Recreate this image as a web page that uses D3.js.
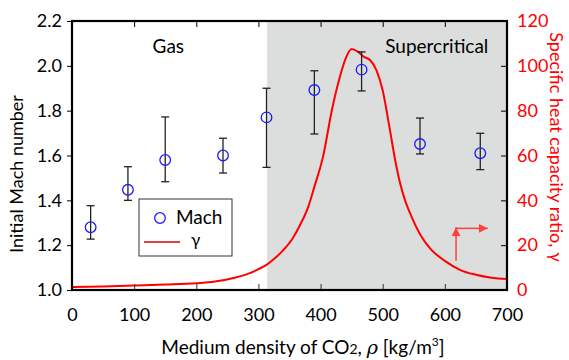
<!DOCTYPE html>
<html>
<head>
<meta charset="utf-8">
<script src="https://cdn.jsdelivr.net/npm/d3@7"></script>
<style>
  body { margin: 0; background: #fff; }
  text { font-family: Lato, "Open Sans", sans-serif; }
</style>
</head>
<body>
<script>
// Mach data (density, value, error top, error bottom)
const machRho = [30, 90, 150, 243, 313, 390, 466, 560, 657];
const machVal = [1.28, 1.447, 1.58, 1.60, 1.77, 1.892, 1.983, 1.651, 1.61];
const machHi  = [1.376, 1.55, 1.772, 1.677, 1.90, 1.978, 2.062, 1.767, 1.699];
const machLo  = [1.227, 1.40, 1.483, 1.522, 1.547, 1.696, 1.888, 1.607, 1.537];

// specific heat ratio curve
const gammaRho = [0, 50, 100, 150, 200, 230, 262, 285, 300, 313, 325, 340, 355, 367, 380, 390, 404, 418, 431, 440, 450,
                  460, 470, 480, 490, 500, 510, 520, 528, 536, 546, 562, 578, 600, 625, 650, 675, 700];
const gammaVal = [1.3, 1.6, 2.0, 2.4, 3.0, 3.8, 5.5, 7.4, 9.3, 11.2, 13.8, 17.8, 23, 29, 37, 46, 59.5, 80, 95, 103, 107.5,
                  106.3, 104, 102.5, 98, 89, 74, 58, 47.6, 40, 33, 24, 18, 13, 8.9, 6.8, 5.5, 4.9];

const xTicks = [0, 100, 200, 300, 400, 500, 600, 700];
const yTicks = [1.0, 1.2, 1.4, 1.6, 1.8, 2.0, 2.2];
const y2Ticks = [0, 20, 40, 60, 80, 100, 120];
const superStart = 314;

const W = 569, H = 360;
const mL = 72, mR = 507, mT = 21, mB = 290;

const svg = d3.select("body").append("svg")
  .attr("width", W)
  .attr("height", H);

const x = d3.scaleLinear().domain([0, 700]).range([mL, mR]);
const y = d3.scaleLinear().domain([1.0, 2.2]).range([mB, mT]);
const y2 = d3.scaleLinear().domain([0, 120]).range([mB, mT]);

// supercritical shading
svg.append("rect")
  .attr("x", x(superStart))
  .attr("y", mT)
  .attr("width", x(700) - x(superStart))
  .attr("height", mB - mT)
  .attr("fill", "#dcdddd");

// region labels
svg.append("text").attr("x", x(155)).attr("y", 53)
  .attr("text-anchor", "middle").attr("font-size", 19).text("Gas");
svg.append("text").attr("x", x(587)).attr("y", 53)
  .attr("text-anchor", "middle").attr("font-size", 19).text("Supercritical");

// gamma curve
const line = d3.line()
  .x((d, i) => x(gammaRho[i]))
  .y(d => y2(d))
  .curve(d3.curveMonotoneX);
svg.append("path")
  .datum(gammaVal)
  .attr("d", line)
  .attr("fill", "none")
  .attr("stroke", "#ff0000")
  .attr("stroke-width", 2);

// error bars
const eb = svg.append("g").attr("stroke", "#222").attr("stroke-width", 1.3);
machRho.forEach((r, i) => {
  const cx = x(r);
  eb.append("line").attr("x1", cx).attr("x2", cx).attr("y1", y(machHi[i])).attr("y2", y(machLo[i]));
  eb.append("line").attr("x1", cx - 4).attr("x2", cx + 4).attr("y1", y(machHi[i])).attr("y2", y(machHi[i]));
  eb.append("line").attr("x1", cx - 4).attr("x2", cx + 4).attr("y1", y(machLo[i])).attr("y2", y(machLo[i]));
});

// mach points
svg.append("g").selectAll("circle")
  .data(machVal)
  .join("circle")
  .attr("cx", (d, i) => x(machRho[i]))
  .attr("cy", d => y(d))
  .attr("r", 5.3)
  .attr("fill", "none")
  .attr("stroke", "#1a1aff")
  .attr("stroke-width", 1.3);

// arrow pointing to right axis
const defs = svg.append("defs");
defs.append("marker")
  .attr("id", "head")
  .attr("viewBox", "0 0 10 10")
  .attr("refX", 10).attr("refY", 5)
  .attr("markerWidth", 9).attr("markerHeight", 9)
  .attr("markerUnits", "userSpaceOnUse")
  .attr("orient", "auto")
  .append("path").attr("d", "M0,0L10,5L0,10Z").attr("fill", "#ff4040");
svg.append("line")
  .attr("x1", x(618)).attr("x2", x(618))
  .attr("y1", y2(13)).attr("y2", y2(28))
  .attr("stroke", "#ff4040").attr("stroke-width", 1.5)
  .attr("marker-end", "url(#head)");
svg.append("line")
  .attr("x1", x(618)).attr("x2", x(669))
  .attr("y1", y2(27.5)).attr("y2", y2(27.5))
  .attr("stroke", "#ff4040").attr("stroke-width", 1.5)
  .attr("marker-end", "url(#head)");

// axes
const axisL = svg.append("g").attr("transform", `translate(${mL},0)`)
  .call(d3.axisLeft(y).tickValues(yTicks).tickFormat(d3.format(".1f")).tickSize(5).tickPadding(5));
const axisB = svg.append("g").attr("transform", `translate(0,${mB})`)
  .call(d3.axisBottom(x).tickValues(xTicks).tickSizeInner(-6).tickSizeOuter(0).tickPadding(18));
const axisT = svg.append("g").attr("transform", `translate(0,${mT})`)
  .call(d3.axisTop(x).tickValues(xTicks).tickSizeInner(-6).tickSizeOuter(0).tickFormat(""));
const axisR = svg.append("g").attr("transform", `translate(${mR},0)`)
  .call(d3.axisRight(y2).tickValues(y2Ticks).tickSizeInner(-6).tickSizeOuter(0).tickPadding(10));

[axisL, axisB, axisT, axisR].forEach(a => {
  a.select(".domain").remove();
  a.selectAll("text").attr("font-size", 18).attr("font-family", "Lato, sans-serif");
});
axisB.selectAll(".tick line").filter(d => d === 0 || d === 700).remove();
axisT.selectAll(".tick line").filter(d => d === 0 || d === 700).remove();
axisR.selectAll(".tick line").filter(d => d === 0 || d === 120).remove();
axisR.selectAll("text").attr("fill", "#ff0000");
axisL.selectAll(".tick line").attr("stroke", "#000");
axisB.selectAll(".tick line").attr("stroke", "#333");

// frame
svg.append("rect")
  .attr("x", mL).attr("y", mT)
  .attr("width", mR - mL).attr("height", mB - mT)
  .attr("fill", "none").attr("stroke", "#000").attr("stroke-width", 2.2);

// legend
const lg = svg.append("g").attr("transform", "translate(139,199)");
lg.append("rect").attr("width", 93).attr("height", 57)
  .attr("fill", "#fff").attr("stroke", "#333").attr("stroke-width", 1);
lg.append("circle").attr("cx", 21).attr("cy", 19).attr("r", 5.3)
  .attr("fill", "none").attr("stroke", "#1a1aff").attr("stroke-width", 1.3);
lg.append("text").attr("x", 37).attr("y", 25).attr("font-size", 19).text("Mach");
lg.append("line").attr("x1", 5).attr("x2", 41).attr("y1", 43).attr("y2", 43)
  .attr("stroke", "#d00000").attr("stroke-width", 1.5);
lg.append("text").attr("x", 52).attr("y", 47).attr("font-size", 17)
  .attr("font-family", "DejaVu Serif, serif").text("γ");

// axis titles
svg.append("text")
  .attr("transform", `translate(23,174) rotate(-90)`)
  .attr("text-anchor", "middle").attr("font-size", 18)
  .text("Initial Mach number");

svg.append("text")
  .attr("transform", `translate(550,147) rotate(90)`)
  .attr("text-anchor", "middle").attr("font-size", 18).attr("fill", "#ff0000")
  .text("Specific heat capacity ratio, γ");

const xt = svg.append("text")
  .attr("x", 303).attr("y", 354)
  .attr("text-anchor", "middle").attr("font-size", 19);
xt.append("tspan").text("Medium density of CO");
xt.append("tspan").attr("font-size", 14).text("2");
xt.append("tspan").text(", ");
xt.append("tspan").attr("font-style", "italic").attr("font-family", "DejaVu Serif, serif").text("ρ");
xt.append("tspan").text(" [kg/m");
xt.append("tspan").attr("font-size", 12).attr("dy", -8).text("3");
xt.append("tspan").attr("dy", 8).text("]");
</script>
</body>
</html>
